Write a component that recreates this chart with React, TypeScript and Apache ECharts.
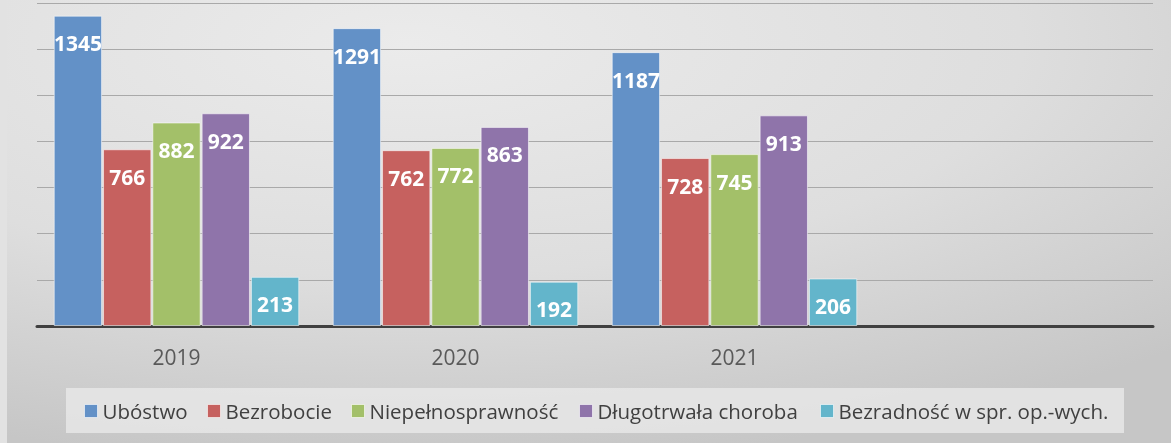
import React, { useEffect, useRef } from "react";
import * as echarts from "echarts";

const categories = ["2019", "2020", "2021", ""];
const seriesNames = [
  "Ubóstwo",
  "Bezrobocie",
  "Niepełnosprawność",
  "Długotrwała choroba",
  "Bezradność w spr. op.-wych.",
];
const ubostwo = [1345, 1291, 1187, null];
const bezrobocie = [766, 762, 728, null];
const niepelnosprawnosc = [882, 772, 745, null];
const dlugotrwala = [922, 863, 913, null];
const bezradnosc = [213, 192, 206, null];
const seriesValues = [ubostwo, bezrobocie, niepelnosprawnosc, dlugotrwala, bezradnosc];
const colors = ["#6391c7", "#c6615f", "#a3c069", "#8f74aa", "#63b5cb"];
const legendLefts = [84, 207, 351, 579, 820];

export default function App() {
  const ref = useRef<HTMLDivElement>(null);
  useEffect(() => {
    const chart = echarts.init(ref.current!, undefined, { renderer: "svg" });
    const option: any = {
      animation: false,
      graphic: [
        {
          type: "rect",
          z: -100,
          silent: true,
          shape: { x: 0, y: 0, width: 1171, height: 443 },
          style: {
            fill: new echarts.graphic.RadialGradient(0.35, 0.1, 0.95, [
              { offset: 0, color: "#ebebeb" },
              { offset: 0.55, color: "#dedede" },
              { offset: 1, color: "#c6c6c6" },
            ]),
          },
        },
        {
          type: "rect",
          z: -95,
          silent: true,
          shape: { x: 0, y: 0, width: 7, height: 443 },
          style: { fill: "#e2e2e2" },
        },
        {
          type: "rect",
          z: -90,
          silent: true,
          shape: { x: 66, y: 388, width: 1058, height: 45 },
          style: { fill: "rgba(232,232,232,0.8)" },
        },
      ],
      grid: { left: 37, right: 18, top: 3, bottom: 117 },
      xAxis: {
        type: "category",
        data: categories,
        axisLine: { show: true, lineStyle: { color: "#404040", width: 3 } },
        axisTick: { show: false },
        axisLabel: {
          color: "#595959",
          fontSize: 21,
          fontFamily: "Open Sans",
          margin: 20,
        },
        splitLine: { show: false },
      },
      yAxis: {
        type: "value",
        min: 0,
        max: 1400,
        interval: 200,
        axisLabel: { show: false },
        axisLine: { show: false },
        axisTick: { show: false },
        splitLine: { show: true, lineStyle: { color: "#a9a9a9", width: 1 } },
      },
      legend: seriesNames.map((name, i) => ({
        data: [name],
        left: legendLefts[i],
        top: 400,
        padding: 0,
        itemWidth: 13,
        itemHeight: 13,
        icon: "rect",
        itemStyle: { borderColor: "rgba(255,255,255,0.6)", borderWidth: 1 },
        textStyle: {
          color: "#404040",
          fontSize: 20.5,
          fontFamily: "Open Sans",
          lineHeight: 22,
        },
      })),
      series: seriesNames.map((name, i) => ({
        name,
        type: "bar",
        data: seriesValues[i],
        barGap: "2%",
        barCategoryGap: "12%",
        itemStyle: {
          color: colors[i],
          borderColor: "rgba(255,255,255,0.55)",
          borderWidth: 1,
        },
        label: {
          show: true,
          position: "insideTop",
          distance: 17,
          color: "#ffffff",
          fontSize: 21,
          fontWeight: "bold",
          fontFamily: "Open Sans",
        },
      })),
    };
    chart.setOption(option);
    return () => chart.dispose();
  }, []);
  return (
    <div
      ref={ref}
      style={{ position: "fixed", left: 0, top: 0, width: 1171, height: 443 }}
    />
  );
}
